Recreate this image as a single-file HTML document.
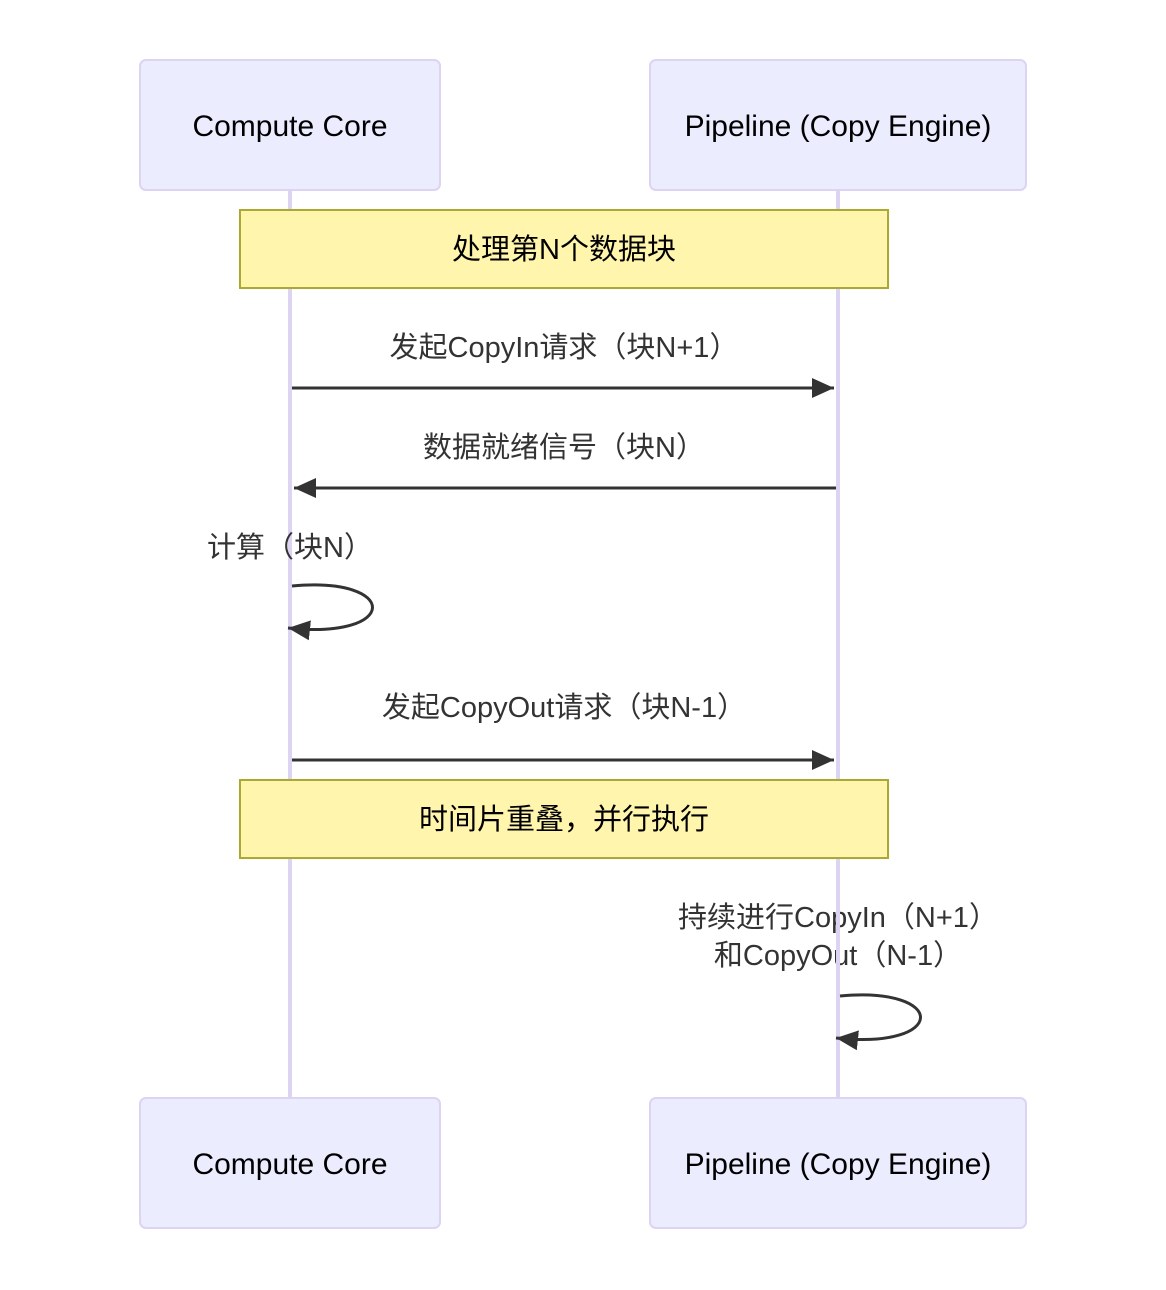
<!DOCTYPE html>
<html><head><meta charset="utf-8"><style>
html,body{margin:0;padding:0;background:#fff;}
svg{display:block;}
text{font-family:"Liberation Sans","Noto Sans CJK SC",sans-serif;}
</style></head><body>
<svg width="1166" height="1290" viewBox="0 0 1166 1290" xmlns="http://www.w3.org/2000/svg">
<defs>
<marker id="ah" markerWidth="24" markerHeight="20" refX="22" refY="10" orient="auto" markerUnits="userSpaceOnUse">
<path d="M0,0 L22,10 L0,20 Z" fill="#333"/>
</marker>
</defs>
<!-- lifelines -->
<line x1="290" y1="190" x2="290" y2="1098" stroke="#ddd3f3" stroke-width="4"/>
<line x1="838" y1="190" x2="838" y2="1098" stroke="#ddd3f3" stroke-width="4"/>
<!-- actors -->
<g fill="#ececff" stroke="#ddd3f3" stroke-width="2">
<rect x="140" y="60" width="300" height="130" rx="6"/>
<rect x="650" y="60" width="376" height="130" rx="6"/>
<rect x="140" y="1098" width="300" height="130" rx="6"/>
<rect x="650" y="1098" width="376" height="130" rx="6"/>
</g>
<g font-size="30" fill="#000" text-anchor="middle">
<text x="290" y="136">Compute Core</text>
<text x="838" y="136">Pipeline (Copy Engine)</text>
<text x="290" y="1174">Compute Core</text>
<text x="838" y="1174">Pipeline (Copy Engine)</text>
</g>
<!-- notes -->
<rect x="240" y="210" width="648" height="78" fill="#fff5ad" stroke="#aaaa33" stroke-width="2"/>
<rect x="240" y="780" width="648" height="78" fill="#fff5ad" stroke="#aaaa33" stroke-width="2"/>
<g font-size="29" fill="#333" text-anchor="middle">
<text x="564" y="259" fill="#000">处理第N个数据块</text>
<text x="564" y="829" fill="#000">时间片重叠，并行执行</text>
<text x="564" y="357">发起CopyIn请求（块N+1）</text>
<text x="564" y="457">数据就绪信号（块N）</text>
<text x="290" y="557">计算（块N）</text>
<text x="564" y="717">发起CopyOut请求（块N-1）</text>
<text x="838" y="927">持续进行CopyIn（N+1）</text>
<text x="838" y="965">和CopyOut（N-1）</text>
</g>
<!-- redraw lifeline over last note text -->
<line x1="838" y1="900" x2="838" y2="975" stroke="#ddd3f3" stroke-width="4"/>
<!-- messages -->
<g stroke="#333" stroke-width="3" fill="none">
<line x1="292" y1="388" x2="834" y2="388" marker-end="url(#ah)"/>
<line x1="836" y1="488" x2="294" y2="488" marker-end="url(#ah)"/>
<path d="M292,586 C400,576 400,640 288,628" marker-end="url(#ah)"/>
<line x1="292" y1="760" x2="834" y2="760" marker-end="url(#ah)"/>
<path d="M840,996 C948,986 948,1050 836,1038" marker-end="url(#ah)"/>
</g>
</svg>
</body></html>
